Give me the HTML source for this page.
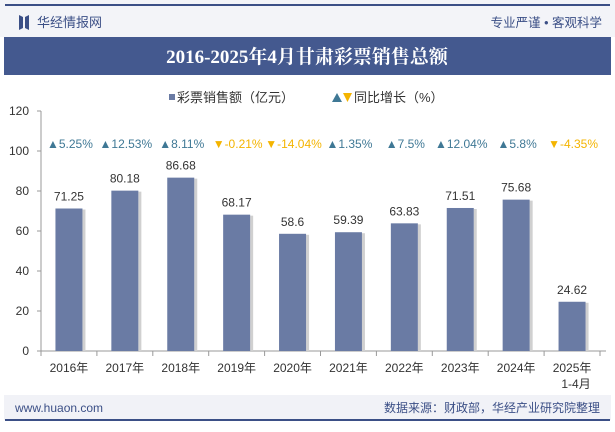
<!DOCTYPE html>
<html><head><meta charset="utf-8"><style>
body{margin:0;width:615px;height:427px;overflow:hidden;background:#fff;font-family:"Liberation Sans","Noto Sans CJK SC",sans-serif;}
#wrap{position:relative;width:615px;height:427px;}
</style></head><body><div id="wrap">
<svg id="svg" width="615" height="427" xmlns="http://www.w3.org/2000/svg">
<rect x="0" y="0" width="615" height="37" fill="#f3f4f8"/>
<rect x="5" y="4" width="605" height="2" fill="#3b4f86"/>
<path d="M19 15 L23 17 L23 28 L19 30 Z M25 17 L29 15 L29 30 L25 28 Z" fill="#3b4f86"/>
<text x="37" y="27" font-size="13" fill="#3b4f86">华经情报网</text>
<text x="602" y="27" font-size="12.5" fill="#3b4f86" text-anchor="end">专业严谨 • 客观科学</text>
<rect x="4" y="37" width="607" height="38" fill="#44598f"/>
<text x="307" y="63" font-size="19" font-weight="bold" fill="#fff" text-anchor="middle" font-family="Liberation Serif,Noto Serif CJK SC,serif">2016-2025年4月甘肃彩票销售总额</text>
<rect x="169" y="94" width="6" height="6" fill="#6a7ba4"/>
<text x="177" y="102" font-size="13" fill="#333">彩票销售额（亿元）</text>
<path d="M332 102 L337 93 L342 102 Z" fill="#3f7895"/>
<path d="M343 93 L352 93 L347.5 102 Z" fill="#f4b400"/>
<text x="354" y="102" font-size="13" fill="#333">同比增长（%）</text>
<g id="plot"></g>
<rect x="4" y="395" width="607" height="25" fill="#f1f2f7"/>
<rect x="5" y="419" width="605" height="2" fill="#3b4f86"/>
<text x="15" y="412" font-size="12" fill="#3b4f86">www.huaon.com</text>
<text x="600" y="412" font-size="12" fill="#3b4f86" text-anchor="end">数据来源：财政部，华经产业研究院整理</text>
</svg></div>
<script>
const categories=["2016年","2017年","2018年","2019年","2020年","2021年","2022年","2023年","2024年","2025年"];
const sales=[71.25,80.18,86.68,68.17,58.6,59.39,63.83,71.51,75.68,24.62];
const growth=[5.25,12.53,8.11,-0.21,-14.04,1.35,7.5,12.04,5.8,-4.35];
const yTicks=[0,20,40,60,80,100,120];
const NS="http://www.w3.org/2000/svg";
const g=document.getElementById('plot');
const x0=41,x1=600,yb=351,yt=111,ymax=120;
const bw=(x1-x0)/categories.length;
const y=v=>yb-(v/ymax)*(yb-yt);
const xc=i=>x0+bw*(i+0.5);
function mk(t,a){const e=document.createElementNS(NS,t);for(const k in a)e.setAttribute(k,a[k]);g.appendChild(e);return e;}
let ax=mk('line',{x1:x0,y1:yt,x2:x0,y2:yb,stroke:'#999'});


let bx=mk('line',{x1:x0,y1:yb,x2:x1+6,y2:yb,stroke:'#999'});


yTicks.forEach(v=>{
 let t=mk('line',{x1:x0-4,y1:y(v),x2:x0,y2:y(v),stroke:'#999'});
 
 
 let l=mk('text',{x:x0-12,y:y(v)+4,'font-size':12,fill:'#333','text-anchor':'end'});l.textContent=v;
 
 
});
for(let i=0;i<=categories.length;i++){
 let t=mk('line',{x1:x0+bw*i,y1:yb,x2:x0+bw*i,y2:yb+5,stroke:'#999'});
 
 
}
categories.forEach((c,i)=>{
 const cx=xc(i),w=27;
 let s=mk('rect',{x:cx-w/2+w,y:y(sales[i])+1,width:3,height:yb-y(sales[i])-1,fill:'#d0d0d0'});
 
 
 let b=mk('rect',{x:cx-w/2,y:y(sales[i]),width:w,height:yb-y(sales[i]),fill:'#6a7ba4'});
 
 
 let vl=mk('text',{x:cx,y:y(sales[i])-8,'font-size':12,fill:'#333','text-anchor':'middle'});vl.textContent=sales[i];
 
 
 let xl=mk('text',{x:cx,y:yb+21,'font-size':12,fill:'#333','text-anchor':'middle'});xl.textContent=c;
 
 
 if(i===categories.length-1){let x2=mk('text',{x:cx+4,y:yb+37,'font-size':12,fill:'#333','text-anchor':'middle'});x2.textContent='1-4月';
 
 }
 const up=growth[i]>=0,col=up?'#3f7895':'#f4b400';
 let gt=mk('text',{x:cx+1,y:148,'font-size':12,fill:col,'text-anchor':'middle'});gt.textContent=(up?'▲':'▼')+growth[i]+'%';
 
 
});
</script></body></html>
